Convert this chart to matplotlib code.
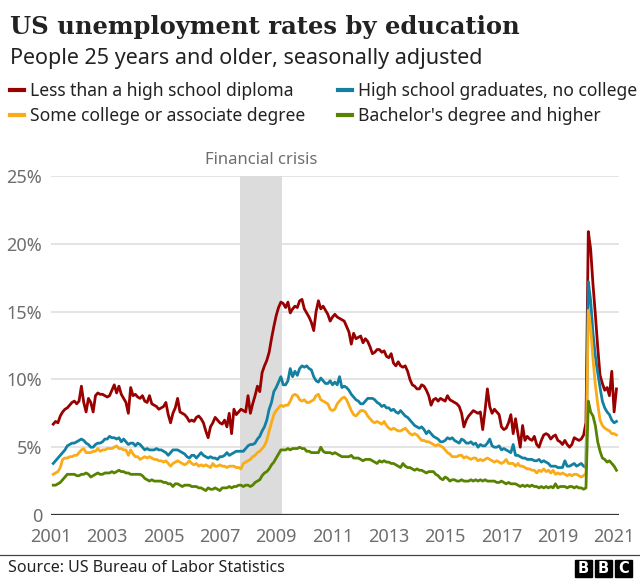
import numpy as np
import matplotlib
matplotlib.use("Agg")
import matplotlib.pyplot as plt
from matplotlib.lines import Line2D
from matplotlib.patches import Rectangle

# monthly rates (%), people 25+, seasonally adjusted; one row per year, Jan 2001 .. Jan 2021
less_than_hs = [
    6.7, 6.9, 6.8, 7.3, 7.6, 7.8, 7.9, 8.1, 8.3, 8.4, 8.2, 8.4,
    9.5, 8.3, 7.6, 8.6, 8.3, 7.6, 8.8, 9.0, 8.9, 8.9, 8.8, 8.7,
    8.8, 9.2, 9.6, 9.0, 9.5, 8.9, 8.6, 8.3, 7.5, 9.4, 8.8, 8.9,
    8.7, 8.6, 8.8, 8.4, 8.3, 8.8, 8.2, 8.1, 8.0, 7.8, 7.9, 8.0,
    8.3, 7.4, 6.8, 7.5, 7.9, 8.6, 7.6, 7.5, 7.4, 7.2, 6.9, 7.0,
    6.9, 7.2, 7.3, 7.1, 6.8, 6.2, 5.7, 6.5, 6.8, 7.2, 7.0, 6.8,
    6.7, 7.0, 6.5, 7.5, 6.0, 7.8, 7.4, 7.6, 7.8, 7.7, 7.6, 8.8,
    7.5, 8.2, 8.8, 9.5, 9.1, 10.5, 11.0, 11.4, 12.0, 13.0, 13.9, 14.7,
    15.3, 15.7, 15.6, 15.3, 15.7, 14.9, 15.2, 15.4, 15.3, 15.8, 15.9, 15.2,
    14.9, 14.6, 14.2, 13.6, 15.0, 15.8, 15.2, 15.4, 15.1, 14.8, 14.3, 14.6,
    14.8, 14.6, 14.5, 14.4, 14.3, 13.9, 13.5, 12.6, 13.4, 13.0, 13.1, 13.2,
    12.7, 13.0, 12.8, 12.4, 11.9, 12.0, 12.2, 12.2, 12.0, 12.1, 11.7, 11.6,
    11.9, 11.2, 11.0, 11.3, 11.0, 10.9, 11.0, 10.6, 10.0, 9.6, 9.5, 9.3,
    9.3, 9.6, 9.5, 9.2, 8.8, 8.1, 8.5, 8.6, 8.4, 8.6, 8.5, 8.4,
    8.8, 8.5, 8.4, 8.3, 8.2, 8.0, 7.5, 6.5, 7.0, 7.3, 7.5, 7.7,
    7.6, 7.5, 7.6, 6.3, 7.7, 9.3, 8.0, 7.5, 7.8, 7.6, 7.4, 6.5,
    6.3, 6.4, 6.8, 7.4, 6.0, 7.1, 6.0, 5.0, 6.6, 5.5, 5.8, 5.6,
    5.5, 5.8, 5.2, 5.0, 5.5, 5.9, 6.0, 5.9, 5.6, 5.8, 5.9, 5.5,
    5.4, 5.2, 5.5, 5.2, 5.0, 5.2, 5.7, 5.6, 5.5, 5.6, 5.9, 6.8,
    20.9, 19.6, 17.0, 14.8, 12.4, 10.3, 9.7, 9.2, 9.4, 8.8, 10.6, 7.6,
    9.3,
]

high_school = [
    3.8, 4.0, 4.2, 4.4, 4.6, 4.8, 5.1, 5.2, 5.3, 5.3, 5.4, 5.5,
    5.6, 5.5, 5.3, 5.2, 5.0, 5.0, 5.2, 5.3, 5.3, 5.4, 5.6, 5.6,
    5.8, 5.7, 5.7, 5.6, 5.7, 5.4, 5.6, 5.4, 5.2, 5.3, 5.3, 5.1,
    5.3, 5.2, 5.0, 4.8, 4.9, 4.8, 4.8, 4.8, 4.9, 4.8, 4.8, 4.7,
    4.6, 4.4, 4.6, 4.8, 4.8, 4.8, 4.7, 4.6, 4.5, 4.3, 4.2, 4.4,
    4.4, 4.2, 4.4, 4.6, 4.4, 4.3, 4.2, 4.3, 4.2, 4.2, 4.1, 4.3,
    4.3, 4.4, 4.6, 4.4, 4.5, 4.6, 4.7, 4.7, 4.7, 4.7, 4.9, 5.1,
    5.2, 5.2, 5.3, 5.6, 5.8, 6.2, 6.5, 7.0, 7.8, 8.3, 9.1, 9.4,
    9.8, 10.2, 9.6, 9.6, 9.9, 10.8, 10.2, 10.6, 10.3, 10.8, 11.0, 10.9,
    11.0, 10.8, 10.7, 10.2, 9.9, 9.8, 10.1, 9.9, 9.7, 9.7, 9.9, 9.6,
    9.8, 9.6, 10.2, 9.4, 9.5, 9.4, 9.2, 8.9, 8.7, 8.5, 8.4, 8.2,
    8.2, 8.4, 8.6, 8.6, 8.6, 8.5, 8.3, 8.2, 8.0, 8.1, 7.9, 7.9,
    7.7, 7.8, 7.6, 7.5, 7.7, 7.5, 7.3, 7.2, 7.0, 6.8, 6.6, 6.5,
    6.4, 6.5, 6.3, 6.0, 6.2, 6.0, 5.8, 5.7, 5.6, 5.4, 5.4, 5.5,
    5.7, 5.6, 5.7, 5.5, 5.4, 5.3, 5.6, 5.5, 5.3, 5.3, 5.4, 5.2,
    5.3, 5.0, 5.2, 5.1, 5.1, 5.3, 5.6, 5.1, 5.0, 5.0, 5.1, 4.8,
    4.9, 4.8, 4.7, 4.6, 5.2, 4.4, 4.4, 4.3, 4.2, 4.2, 4.1, 4.1,
    4.1, 4.0, 4.0, 4.1, 3.9, 4.0, 3.9, 3.8, 3.6, 3.6, 3.6, 3.5,
    3.5, 3.5, 4.0, 3.6, 3.6, 3.7, 3.8, 3.6, 3.7, 3.8, 3.6, 3.5,
    17.2, 15.8, 13.4, 11.7, 10.5, 9.4, 8.4, 7.9, 7.6, 7.4, 7.0, 6.8,
    6.9,
]

some_college = [
    3.0, 3.1, 3.2, 3.5, 4.1, 4.2, 4.2, 4.3, 4.3, 4.4, 4.4, 4.6,
    4.8, 4.9, 4.6, 4.6, 4.6, 4.7, 4.7, 4.9, 4.7, 4.8, 4.8, 4.9,
    4.9, 4.9, 5.0, 5.1, 4.9, 4.9, 4.8, 4.8, 4.4, 4.8, 4.5, 4.3,
    4.3, 4.1, 4.2, 4.3, 4.2, 4.3, 4.2, 4.1, 4.1, 4.0, 4.0, 3.9,
    4.0, 3.8, 3.6, 3.8, 3.9, 4.0, 3.9, 3.8, 3.7, 3.8, 4.0, 3.8,
    3.7, 3.8, 3.6, 3.7, 3.6, 3.7, 3.6, 3.5, 3.8, 3.6, 3.6, 3.7,
    3.6, 3.6, 3.5, 3.6, 3.6, 3.6, 3.5, 3.5, 3.4, 3.8, 3.9, 4.0,
    4.1, 4.3, 4.4, 4.6, 4.7, 4.9, 5.1, 5.5, 6.2, 6.8, 7.4, 7.7,
    7.9, 8.1, 8.0, 8.1, 8.1, 8.4, 8.8, 8.9, 8.8, 8.5, 8.4, 8.5,
    8.3, 8.3, 8.4, 8.5, 8.8, 8.9, 8.5, 8.4, 8.3, 8.2, 7.8, 7.7,
    7.8, 8.2, 8.4, 8.6, 8.7, 8.5, 8.1, 7.7, 7.4, 7.3, 7.5, 7.7,
    7.7, 7.6, 7.3, 7.1, 6.9, 6.8, 6.9, 6.8, 6.7, 6.9, 6.6, 6.4,
    6.3, 6.4, 6.3, 6.2, 6.2, 6.3, 6.4, 6.2, 6.0, 5.9, 6.0, 5.9,
    5.7, 5.5, 5.5, 5.4, 5.4, 5.3, 5.2, 5.1, 5.2, 5.1, 5.0, 4.8,
    4.6, 4.5, 4.3, 4.3, 4.3, 4.4, 4.4, 4.2, 4.3, 4.2, 4.1, 4.2,
    4.2, 4.0, 4.1, 4.0, 4.1, 4.2, 4.1, 4.0, 3.9, 4.0, 3.9, 3.8,
    3.9, 4.1, 3.8, 3.8, 3.8, 3.6, 3.8, 3.6, 3.6, 3.5, 3.4, 3.4,
    3.3, 3.3, 3.1, 3.3, 3.2, 3.4, 3.2, 3.3, 3.1, 3.3, 3.0, 3.1,
    3.0, 3.1, 3.0, 2.9, 3.0, 2.9, 3.0, 3.0, 2.9, 2.8, 2.9, 3.1,
    15.1, 13.8, 11.5, 9.6, 8.2, 7.0, 6.6, 6.4, 6.3, 6.2, 6.0, 6.0,
    5.9,
]

bachelors = [
    2.2, 2.2, 2.3, 2.4, 2.6, 2.8, 3.0, 3.0, 3.0, 3.0, 2.9, 2.9,
    3.0, 3.0, 3.1, 3.0, 2.8, 2.9, 3.0, 3.1, 3.0, 3.0, 3.1, 3.1,
    3.1, 3.2, 3.1, 3.2, 3.3, 3.2, 3.2, 3.1, 3.1, 3.0, 3.0, 3.0,
    3.0, 3.0, 2.9, 2.7, 2.6, 2.5, 2.6, 2.5, 2.5, 2.5, 2.5, 2.4,
    2.4, 2.3, 2.3, 2.1, 2.3, 2.3, 2.2, 2.1, 2.2, 2.2, 2.2, 2.1,
    2.1, 2.1, 2.0, 2.0, 1.9, 1.8, 2.0, 1.9, 1.9, 2.0, 1.9, 1.8,
    2.0, 2.0, 2.0, 2.1, 2.0, 2.1, 2.1, 2.2, 2.2, 2.1, 2.2, 2.2,
    2.1, 2.2, 2.4, 2.5, 2.6, 2.9, 3.1, 3.2, 3.4, 3.7, 3.9, 4.2,
    4.5, 4.8, 4.8, 4.8, 4.9, 4.8, 4.9, 4.9, 4.9, 5.0, 4.9, 4.9,
    4.7, 4.7, 4.6, 4.6, 4.6, 4.6, 5.0, 4.7, 4.6, 4.6, 4.6, 4.5,
    4.6, 4.5, 4.4, 4.3, 4.3, 4.3, 4.3, 4.4, 4.2, 4.2, 4.2, 4.1,
    4.0, 4.1, 4.1, 4.1, 4.0, 3.9, 3.8, 4.0, 3.9, 4.0, 3.9, 3.9,
    3.8, 3.8, 3.7, 3.6, 3.5, 3.8, 3.6, 3.5, 3.5, 3.4, 3.3, 3.4,
    3.3, 3.3, 3.2, 3.1, 3.2, 3.2, 3.2, 3.0, 2.9, 2.7, 2.6, 2.8,
    2.7, 2.5, 2.6, 2.6, 2.5, 2.5, 2.6, 2.5, 2.5, 2.5, 2.6, 2.5,
    2.6, 2.5, 2.6, 2.5, 2.6, 2.5, 2.5, 2.5, 2.5, 2.4, 2.4, 2.5,
    2.4, 2.3, 2.4, 2.3, 2.3, 2.3, 2.2, 2.1, 2.2, 2.1, 2.2, 2.1,
    2.2, 2.1, 2.1, 2.0, 2.1, 2.0, 2.1, 2.0, 2.1, 2.0, 2.3, 2.0,
    2.1, 2.1, 2.1, 2.0, 2.1, 2.1, 2.0, 2.1, 2.0, 2.0, 1.9, 2.0,
    8.4, 7.6, 7.3, 6.6, 5.4, 4.7, 4.2, 4.1, 3.9, 4.0, 3.8, 3.6,
    3.3,
]

series_labels = [
    "Less than a high school diploma",
    "High school graduates, no college",
    "Some college or associate degree",
    "Bachelor's degree and higher",
]
colors = ["#990000", "#1380A1", "#FAAB18", "#588300"]
year_ticks = list(range(2001, 2022, 2))
crisis_start, crisis_end = 2007.70, 2009.20

W, H = 640, 580
fig = plt.figure(figsize=(W / 100, H / 100), dpi=100)


def fx(px):
    return px / W


def fy(py):
    return 1 - py / H


ax = fig.add_axes([fx(50.7), fy(515), fx(619) - fx(50.7), fy(176) - fy(515)])

months = 2001.08 + np.arange(len(less_than_hs)) / 12
grey = "#6e6e6e"

ax.axvspan(crisis_start, crisis_end, ymin=0, ymax=1, color="#dcdcdc", lw=0, zorder=0)
for yv in [5, 10, 15, 20, 25]:
    ax.axhline(yv, color="#dddddd", lw=1.1, zorder=0.5)
ax.axhline(0, color="#333333", lw=1.6, zorder=5)

for vals, c in zip([less_than_hs, high_school, some_college, bachelors], colors):
    ax.plot(months, vals, color=c, lw=2.0, solid_joinstyle="round", zorder=3)

ax.set_xlim(2000.99, 2021.17)
ax.set_ylim(0, 25)
ax.set_xticks(year_ticks)
ax.set_xticklabels([str(y) for y in year_ticks])
ax.set_yticks([0, 5, 10, 15, 20, 25])
ax.set_yticklabels(["0", "5%", "10%", "15%", "20%", "25%"])
for s in ax.spines.values():
    s.set_visible(False)
ax.tick_params(axis="both", length=0, labelsize=13, colors=grey)
ax.tick_params(axis="y", pad=6)
ax.tick_params(axis="x", pad=9)
for lab in ax.get_xticklabels() + ax.get_yticklabels():
    lab.set_fontfamily("Noto Sans")

ax.text((crisis_start + crisis_end) / 2, 25.6, "Financial crisis", ha="center", va="bottom",
        fontsize=12, color=grey, family="Noto Sans")

# header
fig.text(fx(10), fy(34), "US unemployment rates by education", fontsize=17.5,
         fontweight="bold", family="DejaVu Serif", color="#222222", va="baseline")
fig.text(fx(10), fy(64), "People 25 years and older, seasonally adjusted", fontsize=15.5,
         family="Noto Sans", color="#222222", va="baseline")

# legend
legend_pos = [(10, 90), (338, 90), (10, 115), (338, 115)]
for (lx, ly), lab, c in zip(legend_pos, series_labels, colors):
    fig.add_artist(Line2D([fx(lx), fx(lx + 14)], [fy(ly), fy(ly)], color=c, lw=3,
                          transform=fig.transFigure))
    fig.text(fx(lx + 20), fy(ly + 6), lab, fontsize=12.6, family="Noto Sans",
             color="#222222", va="baseline")

# footer
fig.add_artist(Line2D([0, 1], [fy(555), fy(555)], color="#444444", lw=0.9,
                      transform=fig.transFigure))
fig.text(fx(8), fy(572), "Source: US Bureau of Labor Statistics", fontsize=11.5,
         family="Noto Sans", color="#222222", va="baseline")
for i, letter in enumerate("BBC"):
    x0 = 575 + i * 20
    fig.add_artist(Rectangle((fx(x0), fy(577)), fx(17), 17 / H, color="#000000",
                             transform=fig.transFigure))
    fig.text(fx(x0 + 8.5), fy(568.5), letter, fontsize=10.5, fontweight="bold",
             family="DejaVu Sans", color="white", ha="center", va="center")

fig.savefig("out.png", dpi=100)
